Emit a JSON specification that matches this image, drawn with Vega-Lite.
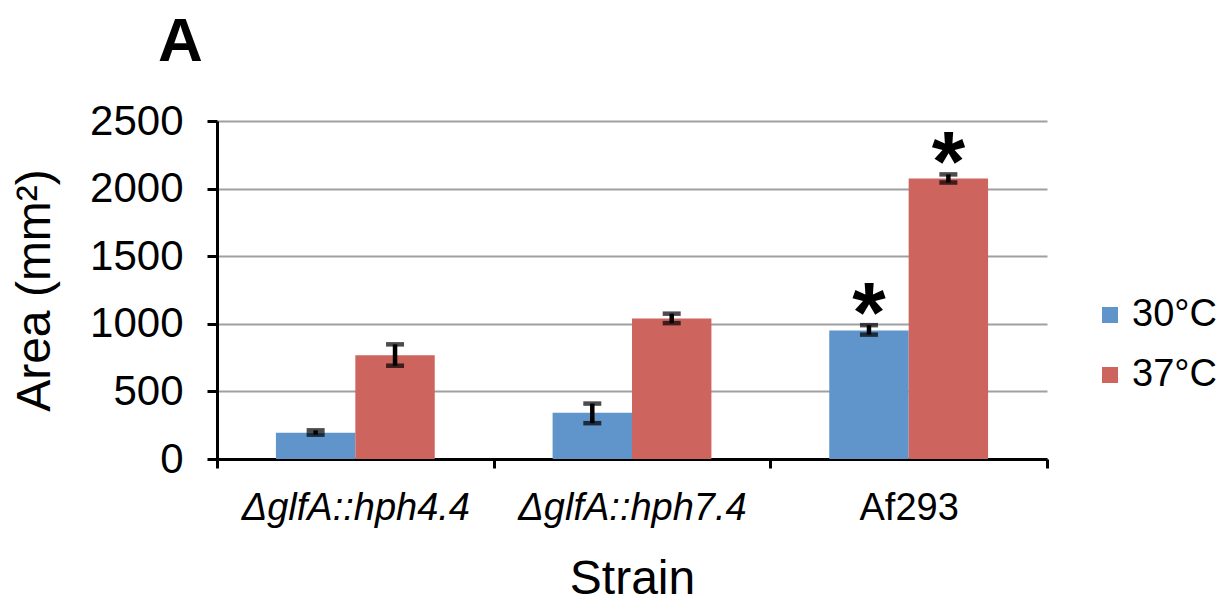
{
  "$schema": "https://vega.github.io/schema/vega-lite/v6.json",
  "autosize": {"type": "none"},
  "padding": {"left": 217, "top": 121, "right": 185, "bottom": 149},
  "width": 830,
  "height": 338,
  "background": "white",
  "title": {
    "text": "A",
    "anchor": "start",
    "frame": "group",
    "dx": -59,
    "offset": -23,
    "baseline": "alphabetic",
    "font": "Liberation Sans",
    "fontSize": 62,
    "fontWeight": "bold",
    "color": "black"
  },
  "config": {
    "view": {"stroke": null},
    "font": "Liberation Sans",
    "axis": {
      "labelFont": "Liberation Sans",
      "titleFont": "Liberation Sans",
      "labelColor": "black",
      "titleColor": "black",
      "domainColor": "black",
      "tickColor": "black",
      "domainWidth": 3,
      "tickWidth": 3,
      "titleFontWeight": "normal"
    },
    "legend": {"labelFont": "Liberation Sans"}
  },
  "data": {
    "values": [
      {"strain": "ΔglfA::hph4.4", "temp": "30°C", "value": 195, "lo": 180, "hi": 212, "sig": ""},
      {"strain": "ΔglfA::hph4.4", "temp": "37°C", "value": 768, "lo": 690, "hi": 848, "sig": ""},
      {"strain": "ΔglfA::hph7.4", "temp": "30°C", "value": 342, "lo": 265, "hi": 410, "sig": ""},
      {"strain": "ΔglfA::hph7.4", "temp": "37°C", "value": 1040, "lo": 1005, "hi": 1075, "sig": ""},
      {"strain": "Af293", "temp": "30°C", "value": 950, "lo": 920, "hi": 990, "sig": "*"},
      {"strain": "Af293", "temp": "37°C", "value": 2075, "lo": 2045, "hi": 2105, "sig": "*"}
    ]
  },
  "encoding": {
    "x": {
      "field": "strain",
      "type": "nominal",
      "sort": ["ΔglfA::hph4.4", "ΔglfA::hph7.4", "Af293"],
      "scale": {"paddingInner": 0, "paddingOuter": 0},
      "axis": {
        "title": "Strain",
        "titleFontSize": 48,
        "titlePadding": 28,
        "labelFontSize": 38,
        "labelAngle": 0,
        "labelPadding": 21,
        "labelLimit": 0,
        "labelFontStyle": {"condition": {"test": "datum.value === 'Af293'", "value": "normal"}, "value": "italic"},
        "tickSize": 9,
        "tickBand": "extent",
        "grid": false
      }
    },
    "xOffset": {
      "field": "temp",
      "type": "nominal",
      "scale": {"paddingInner": 0, "paddingOuter": 0.742}
    }
  },
  "layer": [
    {
      "mark": {"type": "bar"},
      "encoding": {
        "y": {
          "field": "value",
          "type": "quantitative",
          "scale": {"domain": [0, 2500], "nice": false},
          "axis": {
            "title": "Area (mm²)",
            "titleFontSize": 48,
            "titlePadding": 30,
            "labelFontSize": 42,
            "labelPadding": 24,
            "tickSize": 10,
            "format": "d",
            "values": [0, 500, 1000, 1500, 2000, 2500],
            "grid": true,
            "gridColor": "#A0A0A0",
            "gridWidth": 2,
            "gridOpacity": 1
          }
        },
        "color": {
          "field": "temp",
          "type": "nominal",
          "scale": {"domain": ["30°C", "37°C"], "range": ["#5F95CB", "#CD655E"]},
          "legend": {
            "title": null,
            "orient": "none",
            "legendX": 874,
            "legendY": 175,
            "symbolType": "square",
            "symbolSize": 256,
            "symbolStrokeWidth": 0,
            "labelFontSize": 38,
            "labelColor": "black",
            "labelOffset": 3,
            "rowPadding": 22
          }
        }
      }
    },
    {
      "mark": {"type": "rule", "color": "black", "strokeWidth": 4.5},
      "encoding": {
        "y": {"field": "lo", "type": "quantitative"},
        "y2": {"field": "hi"}
      }
    },
    {
      "mark": {"type": "tick", "color": "black", "thickness": 4.5, "size": 18, "orient": "horizontal"},
      "encoding": {
        "y": {"field": "lo", "type": "quantitative"}
      }
    },
    {
      "mark": {"type": "tick", "color": "black", "thickness": 4.5, "size": 18, "orient": "horizontal"},
      "encoding": {
        "y": {"field": "hi", "type": "quantitative"}
      }
    },
    {
      "mark": {"type": "text", "fontSize": 86, "fontWeight": "bold", "baseline": "alphabetic", "dy": 17, "color": "black"},
      "encoding": {
        "y": {"field": "hi", "type": "quantitative"},
        "text": {"field": "sig"}
      }
    }
  ]
}
